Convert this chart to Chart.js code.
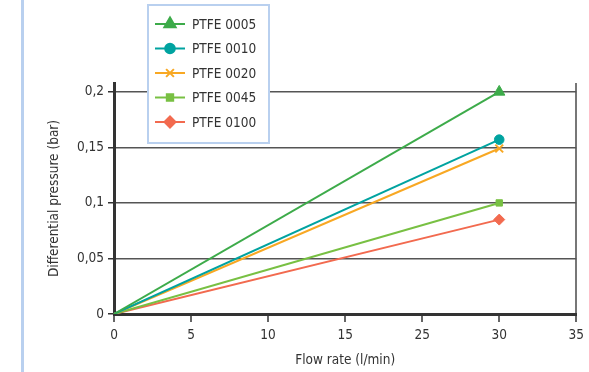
<!DOCTYPE html>
<html>
<head>
<meta charset="utf-8">
<script src="https://cdn.jsdelivr.net/npm/chart.js@4/dist/chart.umd.min.js"></script>
<style>
  html, body { margin: 0; padding: 0; background: #fff; }
  #wrap { position: relative; width: 589px; height: 372px; }
  #edge { position: absolute; left: 21px; top: 0; width: 3px; height: 372px; background: #b9d0ef; }
</style>
</head>
<body>
<div id="wrap">
  <div id="edge"></div>
  <canvas id="chart" width="589" height="372"></canvas>
</div>
<script>
// flow rate axis labels (note: the original skips 20)
const flowLabels = ['0', '5', '10', '15', '25', '30', '35']
const seriesNames = ['PTFE 0005', 'PTFE 0010', 'PTFE 0020', 'PTFE 0045', 'PTFE 0100']
const seriesColors = ['#3dab4a', '#00a3a0', '#f8a823', '#78c043', '#f26a4f']
const seriesMarkers = ['triangle', 'circle', 'crossRot', 'rect', 'rectRot']
const markerSizes = [6.5, 4.8, 5.5, 4.5, 5.5]
// pressure drop (bar), points at 0 and 30 l/min
const ptfe0005 = [0, null, null, null, null, 0.2, null]
const ptfe0010 = [0, null, null, null, null, 0.157, null]
const ptfe0020 = [0, null, null, null, null, 0.149, null]
const ptfe0045 = [0, null, null, null, null, 0.1, null]
const ptfe0100 = [0, null, null, null, null, 0.085, null]
const seriesData = [ptfe0005, ptfe0010, ptfe0020, ptfe0045, ptfe0100]
const yTicks = [0, 0.05, 0.1, 0.15, 0.2]

const FONT = "'DejaVu Sans Condensed', 'Liberation Sans Narrow', Roboto, sans-serif"
const TXT = '#333'
const FS = 13.5

const datasets = seriesData.map((d, i) => ({
  label: seriesNames[i],
  data: d,
  borderColor: seriesColors[i],
  backgroundColor: seriesColors[i],
  borderWidth: 2,
  pointStyle: seriesMarkers[i],
  pointRadius: d.map((v, j) => (j === 0 || v === null) ? 0 : markerSizes[i]),
  pointBorderWidth: seriesMarkers[i] === 'crossRot' ? 2 : 1,
  spanGaps: true,
  tension: 0
}))

// legend box drawn inside the plot, over the grid
const boxLegend = {
  id: 'boxLegend',
  afterDraw(chart) {
    const ctx = chart.ctx
    ctx.save()
    ctx.fillStyle = '#fff'
    ctx.fillRect(148, 5, 121, 138)
    ctx.strokeStyle = '#b9d0ef'
    ctx.lineWidth = 2
    ctx.strokeRect(148, 5, 121, 138)
    chart.data.datasets.forEach((ds, i) => {
      const y = 24 + i * 24.5
      ctx.strokeStyle = ds.borderColor
      ctx.lineWidth = 2
      ctx.beginPath()
      ctx.moveTo(155, y)
      ctx.lineTo(185, y)
      ctx.stroke()
      ctx.fillStyle = ds.backgroundColor
      Chart.helpers.drawPoint(ctx, {
        pointStyle: ds.pointStyle,
        radius: markerSizes[i],
        rotation: 0,
        borderWidth: ds.pointBorderWidth
      }, 170, y)
      ctx.fillStyle = TXT
      ctx.font = FS + 'px ' + FONT
      ctx.textBaseline = 'middle'
      ctx.textAlign = 'left'
      ctx.fillText(ds.label, 192, y + 1)
    })
    ctx.restore()
  }
}

new Chart(document.getElementById('chart'), {
  type: 'line',
  data: { labels: flowLabels, datasets: datasets },
  options: {
    responsive: false,
    animation: false,
    layout: { padding: { top: 83, right: 9, left: 0, bottom: 0 } },
    plugins: { legend: { display: false }, tooltip: { enabled: false } },
    scales: {
      x: {
        offset: false,
        afterFit(scale) { scale.height = 58 },
        grid: {
          color: (c) => c.index === flowLabels.length - 1 ? '#777' : 'rgba(0,0,0,0)',
          lineWidth: 2,
          drawTicks: true,
          tickLength: 8,
          tickColor: '#333',
          tickWidth: 1.5
        },
        border: { color: '#333', width: 3 },
        ticks: { color: TXT, font: { family: FONT, size: FS }, padding: 5, maxRotation: 0, autoSkip: false },
        title: { display: true, text: 'Flow rate (l/min)', color: TXT, font: { family: FONT, size: FS }, padding: { top: 4, bottom: 3 } }
      },
      y: {
        min: 0,
        max: 0.208,
        afterFit(scale) { scale.width = 114 },
        afterBuildTicks(scale) { scale.ticks = yTicks.map(v => ({ value: v })) },
        grid: {
          color: '#555',
          lineWidth: 1.5,
          drawTicks: true,
          tickLength: 6,
          tickColor: '#333',
          tickWidth: 1.5
        },
        border: { color: '#333', width: 3 },
        ticks: {
          color: TXT,
          font: { family: FONT, size: FS },
          padding: 4,
          callback: (v) => String(v).replace('.', ',')
        },
        title: { display: true, text: 'Differential pressure (bar)', color: TXT, font: { family: FONT, size: FS }, padding: { top: 46, bottom: 0 } }
      }
    }
  },
  plugins: [boxLegend]
})
</script>
</body>
</html>
